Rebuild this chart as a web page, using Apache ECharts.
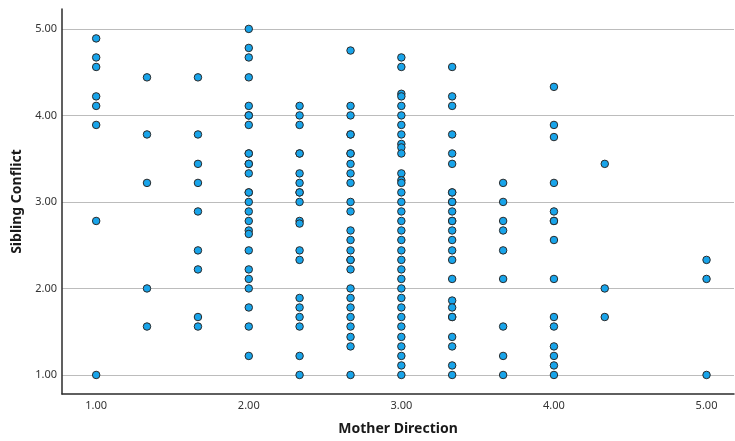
<!DOCTYPE html>
<html>
<head>
<meta charset="utf-8">
<title>Sibling Conflict vs Mother Direction</title>
<script src="https://cdn.jsdelivr.net/npm/echarts/dist/echarts.min.js"></script>
<style>
  html, body { margin: 0; padding: 0; background: #fff; }
  #chart { width: 735px; height: 441px; }
</style>
</head>
<body>
<div id="chart"></div>
<script>
// Mother Direction levels (x) and Sibling Conflict scores (y) for each level
var xLevels = [1.00, 1.333, 1.667, 2.00, 2.333, 2.667, 3.00, 3.333, 3.667, 4.00, 4.333, 5.00];

var y100 = [4.89, 4.67, 4.56, 4.22, 4.11, 3.89, 2.78, 1.00];
var y133 = [4.44, 3.78, 3.22, 2.00, 1.56];
var y167 = [4.44, 3.78, 3.44, 3.22, 2.89, 2.44, 2.22, 1.67, 1.56];
var y200 = [5.00, 4.78, 4.67, 4.44, 4.11, 4.00, 4.00, 3.89, 3.56, 3.56, 3.44, 3.44, 3.33, 3.11, 3.11,
            3.00, 2.89, 2.78, 2.67, 2.63, 2.44, 2.22, 2.11, 2.00, 1.78, 1.56, 1.22];
var y233 = [4.11, 4.00, 3.89, 3.56, 3.56, 3.33, 3.22, 3.11, 3.11, 3.00, 2.78, 2.75, 2.44, 2.33,
            1.89, 1.78, 1.67, 1.56, 1.22, 1.00];
var y267 = [4.75, 4.11, 4.00, 3.78, 3.78, 3.56, 3.56, 3.44, 3.33, 3.22, 3.00, 2.89, 2.67, 2.56, 2.44,
            2.33, 2.33, 2.22, 2.00, 1.89, 1.78, 1.67, 1.56, 1.44, 1.33, 1.00];
var y300 = [4.67, 4.56, 4.25, 4.22, 4.11, 4.00, 3.89, 3.78, 3.67, 3.63, 3.56, 3.33, 3.25, 3.22, 3.11,
            3.00, 2.89, 2.78, 2.67, 2.56, 2.44, 2.33, 2.22, 2.11, 2.00, 1.89, 1.78, 1.67, 1.56,
            1.44, 1.33, 1.22, 1.11, 1.00];
var y333 = [4.56, 4.22, 4.11, 3.78, 3.56, 3.44, 3.11, 3.11, 3.00, 3.00, 2.89, 2.78, 2.78, 2.67, 2.56,
            2.44, 2.33, 2.11, 1.86, 1.78, 1.67, 1.67, 1.44, 1.33, 1.11, 1.00];
var y367 = [3.22, 3.00, 2.78, 2.67, 2.44, 2.11, 1.56, 1.22, 1.00];
var y400 = [4.33, 3.89, 3.75, 3.22, 2.89, 2.78, 2.78, 2.56, 2.11, 1.67, 1.56, 1.33, 1.22, 1.11, 1.00];
var y433 = [3.44, 2.00, 1.67];
var y500 = [2.33, 2.11, 1.00];

var yColumns = [y100, y133, y167, y200, y233, y267, y300, y333, y367, y400, y433, y500];

// tick labels
var xTicks = [1, 2, 3, 4, 5];
var yTicks = [1, 2, 3, 4, 5];

var points = [];
xLevels.forEach(function (x, i) {
    yColumns[i].forEach(function (y) {
        points.push([x, y]);
    });
});

var fontName = 'Noto Sans';

var chart = echarts.init(document.getElementById('chart'), null, { renderer: 'canvas' });

var option = {
    animation: false,
    backgroundColor: '#ffffff',
    grid: {
        left: 62,
        right: 1,
        top: 9,
        bottom: 46,
        containLabel: false
    },
    xAxis: {
        type: 'value',
        min: 0.776,
        max: 5.18,
        name: 'Mother Direction',
        nameLocation: 'middle',
        nameGap: 28,
        nameTextStyle: {
            fontFamily: fontName,
            fontWeight: 'bold',
            fontSize: 14,
            color: '#1a1a1a'
        },
        axisLine: {
            lineStyle: { color: '#2b2b2b', width: 1.5 }
        },
        axisTick: { show: false, customValues: xTicks },
        axisLabel: {
            customValues: xTicks,
            margin: 6,
            fontFamily: fontName,
            fontSize: 11,
            color: '#333',
            formatter: function (v) { return v.toFixed(2); }
        },
        splitLine: { show: false }
    },
    yAxis: {
        type: 'value',
        min: 0.78,
        max: 5.23,
        name: 'Sibling Conflict',
        nameLocation: 'middle',
        nameGap: 35,
        nameTextStyle: {
            fontFamily: fontName,
            fontWeight: 'bold',
            fontSize: 14,
            color: '#1a1a1a'
        },
        axisLine: {
            show: true,
            lineStyle: { color: '#2b2b2b', width: 1.5 }
        },
        axisTick: { show: false, customValues: yTicks },
        axisLabel: {
            customValues: yTicks,
            margin: 5,
            fontFamily: fontName,
            fontSize: 11,
            color: '#333',
            formatter: function (v) { return v.toFixed(2); }
        },
        splitLine: {
            show: true,
            lineStyle: { color: '#bcbcbc', width: 1 }
        }
    },
    series: [{
        type: 'scatter',
        symbol: 'circle',
        symbolSize: 7.5,
        itemStyle: {
            color: '#18a4ea',
            borderColor: '#2a2a2a',
            borderWidth: 1,
            opacity: 1
        },
        data: points
    }]
};

chart.setOption(option);
</script>
</body>
</html>
